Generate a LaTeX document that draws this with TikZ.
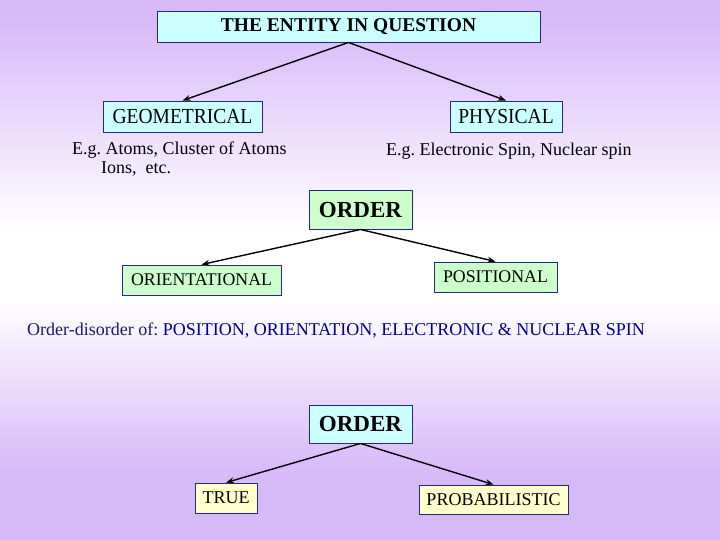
\documentclass[tikz,border=0pt]{standalone}
\usepackage{fontspec}
\setmainfont{Liberation Serif}
\usetikzlibrary{arrows.meta}
\frenchspacing
\definecolor{lav}{RGB}{216,186,248}
\definecolor{boxline}{RGB}{40,40,130}
\definecolor{cyanfill}{RGB}{204,255,255}
\definecolor{greenfill}{RGB}{204,255,204}
\definecolor{yellowfill}{RGB}{255,255,204}
\definecolor{navytext}{RGB}{26,26,110}
\definecolor{bluetext}{RGB}{0,0,150}
\newcommand{\tallish}[1]{\scalebox{1}[1.1]{#1}}
\begin{document}
\begin{tikzpicture}[x=1pt,y=-1pt,
  box/.style={draw=boxline, line width=0.9pt, inner sep=0pt, text=black},
  cbox/.style={box, fill=cyanfill},
  gbox/.style={box, fill=greenfill},
  ybox/.style={box, fill=yellowfill},
  txt/.style={inner sep=0pt, anchor=base west, text=black},
  conn/.style={draw=black, line width=1.4pt, -{Stealth[length=8pt,width=6pt]}}]
\useasboundingbox (0,0) rectangle (720,540);
% background
\fill[lav] (0,0) rectangle (720,20);
\fill[top color=lav, bottom color=white] (0,19.5) rectangle (720,235);
\fill[white] (0,234.5) rectangle (720,300);
\fill[top color=white, bottom color=lav] (0,299.5) rectangle (720,470);
\fill[lav] (0,469.5) rectangle (720,540);
% boxes
\node[cbox, minimum width=383pt, minimum height=31pt, font=\fontsize{19.5}{22}\selectfont\bfseries] (ent) at (348.5,26.5) {THE ENTITY IN QUESTION};
\node[cbox, minimum width=159pt, minimum height=31pt, font=\fontsize{19.5}{22}\selectfont] (geo) at (182.5,116.5) {\tallish{GEOMETRICAL}};
\node[cbox, minimum width=112pt, minimum height=31pt, font=\fontsize{19.5}{22}\selectfont] (phy) at (506,116.5) {\tallish{PHYSICAL}};
\node[gbox, minimum width=103pt, minimum height=39pt, font=\fontsize{23}{26}\selectfont\bfseries] (ord1) at (360.5,209.5) {ORDER};
\node[gbox, minimum width=159pt, minimum height=30pt, font=\fontsize{17.8}{20}\selectfont] (ori) at (201.5,280) {ORIENTATIONAL};
\node[gbox, minimum width=123pt, minimum height=30pt, font=\fontsize{17.8}{20}\selectfont] (pos) at (495.5,277) {POSITIONAL};
\node[cbox, minimum width=103pt, minimum height=38pt, font=\fontsize{23}{26}\selectfont\bfseries] (ord2) at (360.5,424) {ORDER};
\node[ybox, minimum width=62pt, minimum height=30pt, font=\fontsize{18}{20}\selectfont] (tru) at (226,498) {TRUE};
\node[ybox, minimum width=149pt, minimum height=29pt, font=\fontsize{18}{20}\selectfont] (pro) at (493.5,499.5) {PROBABILISTIC};
% texts
\node[txt, font=\fontsize{18}{20}\selectfont] (eg1) at (72,155) {E.g. Atoms, Cluster of Atoms};
\node[txt, font=\fontsize{18}{20}\selectfont] (eg2) at (101,174) {Ions,\ \ etc.};
\node[txt, font=\fontsize{18}{20}\selectfont] (eg3) at (386,155.5) {E.g. Electronic Spin, Nuclear spin};
\node[txt, font=\fontsize{18}{20}\selectfont] (od) at (27,335) {\textcolor{navytext}{Order-disorder of:} \textcolor{bluetext}{POSITION, ORIENTATION, ELECTRONIC \& NUCLEAR SPIN}};
% connectors
\draw[conn] (ent.south) -- (geo.north);
\draw[conn] (ent.south) -- (phy.north);
\draw[conn] (ord1.south) -- (ori.north);
\draw[conn] (ord1.south) -- (pos.north);
\draw[conn] (ord2.south) -- (tru.north);
\draw[conn] (ord2.south) -- (pro.north);
\end{tikzpicture}
\end{document}
